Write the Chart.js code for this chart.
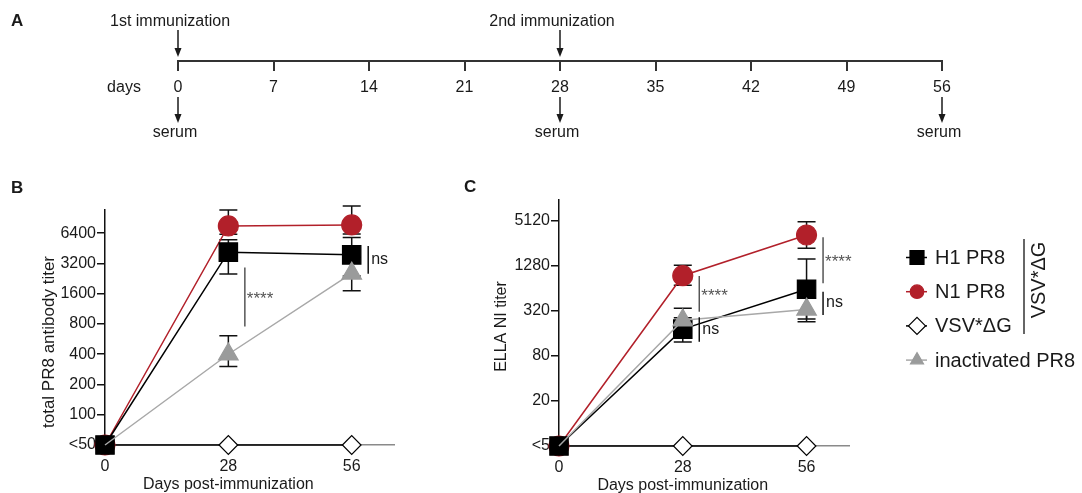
<!DOCTYPE html>
<html>
<head>
<meta charset="utf-8">
<title>PR8 immunization titers</title>
<script src="https://cdn.jsdelivr.net/npm/chart.js@4.4.1/dist/chart.umd.min.js"></script>
<style>
  html, body { margin: 0; padding: 0; background: #fff; }
  body { width: 1082px; height: 493px; position: relative; overflow: hidden; }
  canvas { position: absolute; }
  #timeline-chart { left: 0; top: 0; }
  #total-chart { left: 0; top: 170px; }
  #ella-chart { left: 420px; top: 170px; }
</style>
</head>
<body>
<canvas id="timeline-chart" width="1082" height="150"></canvas>
<canvas id="total-chart" width="420" height="323"></canvas>
<canvas id="ella-chart" width="662" height="323"></canvas>
<script>
"use strict";

// ---- data ----
const timelineDays = [0, 7, 14, 21, 28, 35, 42, 49, 56];
const immunizationDays = [0, 28];
const immunizationLabels = ["1st immunization", "2nd immunization"];
const serumDays = [0, 28, 56];

const days = [0, 28, 56];

// panel B: total PR8 antibody titer (day 0 is "<50", plotted at 50)
const totalTicks = [50, 100, 200, 400, 800, 1600, 3200, 6400];
const totalH1 = [50, 4150, 3900];
const totalH1Low = [null, 2520, 2400];
const totalH1High = [null, 5500, 5790];
const totalN1 = [50, 7575, 7745];
const totalN1Low = [null, 6260, 6300];
const totalN1High = [null, 10900, 11960];
const totalVsv = [50, 50, 50];
const totalInact = [50, 400, 2550];
const totalInactLow = [null, 302, 1709];
const totalInactHigh = [null, 610, 3700];
const totalSigDays = [28, 56];
const totalSigFrom = [755, 2523];
const totalSigTo = [2915, 4785];
const totalSigLabels = ["****", "ns"];

// panel C: ELLA NI titer (day 0 is "<5", plotted at 5)
const ellaTicks = [5, 20, 80, 320, 1280, 5120];
const ellaH1 = [5, 183, 626];
const ellaH1Low = [null, 123, 250];
const ellaH1High = [null, 260, 1588];
const ellaN1 = [5, 949, 3326];
const ellaN1Low = [null, 706, 2208];
const ellaN1High = [null, 1308, 5010];
const ellaVsv = [5, 5, 5];
const ellaInact = [5, 240, 336];
const ellaInactLow = [null, 170, 230];
const ellaInactHigh = [null, 348, 480];
const ellaSigDays = [28, 28, 56, 56];
const ellaSigFrom = [313, 124, 751, 283];
const ellaSigTo = [941, 264, 3100, 580];
const ellaSigLabels = ["****", "ns", "****", "ns"];

const legendLabels = ["H1 PR8", "N1 PR8", "VSV*\u0394G", "inactivated PR8"];

// ---- styles ----
const FONT = '"Liberation Sans", Arial, Helvetica, sans-serif';
const INK = "#1a1a1a";
const RED = "#b2202a";
const GREY = "#9a9b9b";

const styles = {
  "H1 PR8": { line: "#000", point: "rect", radius: 13, fill: "#000", stroke: "#000", order: 1, hideFirst: false },
  "N1 PR8": { line: RED, point: "circle", radius: 10, fill: RED, stroke: RED, order: 2, hideFirst: false },
  "VSV*\u0394G": { line: "#000", point: "rectRot", radius: 9.3, fill: "#fff", stroke: "#000", order: 3, hideFirst: false },
  "inactivated PR8": { line: "#a8a8a8", point: "triangle", radius: 11.3, fill: GREY, stroke: GREY, order: 0, hideFirst: true },
};

Chart.defaults.font.family = FONT;
Chart.defaults.color = INK;

function makeDataset(label, values, low, high) {
  const style = styles[label];
  const radius = (context) => (style.hideFirst && context.dataIndex === 0 ? 0 : style.radius);
  return {
    label,
    data: values.map((value, index) => ({ x: days[index], y: value })),
    errorLow: low,
    errorHigh: high,
    borderColor: style.line,
    borderWidth: 1.5,
    pointStyle: style.point,
    pointRadius: radius,
    pointHoverRadius: radius,
    pointBackgroundColor: style.fill,
    pointBorderColor: style.stroke,
    pointBorderWidth: 1.2,
    tension: 0,
    clip: false,
    order: style.order,
  };
}

function drawDownArrow(ctx, x, y1, y2) {
  ctx.beginPath();
  ctx.moveTo(x, y1);
  ctx.lineTo(x, y2 - 6);
  ctx.stroke();
  ctx.beginPath();
  ctx.moveTo(x, y2);
  ctx.lineTo(x - 3.5, y2 - 9);
  ctx.lineTo(x + 3.5, y2 - 9);
  ctx.closePath();
  ctx.fill();
}

function drawMarker(ctx, label, x, y, size) {
  const style = styles[label];
  ctx.save();
  ctx.fillStyle = style.fill;
  ctx.strokeStyle = style.stroke;
  ctx.lineWidth = 1.2;
  ctx.beginPath();
  if (style.point === "rect") {
    ctx.rect(x - size / 2, y - size / 2, size, size);
  } else if (style.point === "circle") {
    ctx.arc(x, y, size / 2, 0, Math.PI * 2);
  } else if (style.point === "rectRot") {
    ctx.moveTo(x - size / 2, y);
    ctx.lineTo(x, y - size / 2);
    ctx.lineTo(x + size / 2, y);
    ctx.lineTo(x, y + size / 2);
    ctx.closePath();
  } else {
    const r = size / 1.732;
    ctx.moveTo(x, y - r);
    ctx.lineTo(x + size / 2, y + r / 2);
    ctx.lineTo(x - size / 2, y + r / 2);
    ctx.closePath();
  }
  ctx.fill();
  ctx.stroke();
  ctx.restore();
}

// ---- panel A: timeline ----
const timelinePlugin = {
  id: "timelineNotes",
  afterDraw(chart) {
    const { ctx } = chart;
    const xScale = chart.scales.x;
    const axisY = xScale.top;
    ctx.save();
    ctx.fillStyle = INK;
    ctx.strokeStyle = INK;
    ctx.lineWidth = 1.5;
    ctx.font = "16px " + FONT;
    ctx.textAlign = "center";
    ctx.textBaseline = "middle";
    immunizationDays.forEach((day, i) => {
      const px = xScale.getPixelForValue(day);
      drawDownArrow(ctx, px, axisY - 31, axisY - 4);
      ctx.fillText(immunizationLabels[i], px - 8, axisY - 39);
    });
    serumDays.forEach((day) => {
      const px = xScale.getPixelForValue(day);
      drawDownArrow(ctx, px, axisY + 36, axisY + 62);
      ctx.fillText("serum", px - 3, axisY + 72);
    });
    ctx.fillText("days", xScale.left - 54, axisY + 27);
    ctx.font = "bold 17px " + FONT;
    ctx.textAlign = "left";
    ctx.fillText("A", 11, 21);
    ctx.restore();
  },
};

new Chart(document.getElementById("timeline-chart"), {
  type: "line",
  data: { datasets: [] },
  options: {
    responsive: false,
    animation: false,
    events: [],
    layout: { padding: { left: 178, right: 140, top: 0, bottom: 0 } },
    plugins: { legend: { display: false }, tooltip: { enabled: false } },
    scales: {
      x: {
        type: "linear",
        min: 0,
        max: 56,
        afterBuildTicks: (scale) => { scale.ticks = timelineDays.map((value) => ({ value })); },
        afterFit: (scale) => { scale.height = 89; },
        border: { display: true, color: "#333", width: 2 },
        grid: { drawOnChartArea: false, tickLength: 10, color: "#333", lineWidth: 2 },
        ticks: { padding: 7, font: { size: 16 }, color: INK, maxRotation: 0 },
      },
      y: { display: false, min: 0, max: 1 },
    },
  },
  plugins: [timelinePlugin],
});

// ---- panels B and C ----
const errorBarPlugin = {
  id: "errorBars",
  beforeDatasetsDraw(chart) {
    const { ctx, scales: { x, y } } = chart;
    ctx.save();
    ctx.strokeStyle = "#111";
    ctx.lineWidth = 1.5;
    for (const dataset of chart.data.datasets) {
      if (!dataset.errorLow) {
        continue;
      }
      dataset.data.forEach((point, i) => {
        const low = dataset.errorLow[i];
        const high = dataset.errorHigh[i];
        if (low === null || high === null) {
          return;
        }
        const px = x.getPixelForValue(point.x);
        const yLow = y.getPixelForValue(low);
        const yHigh = y.getPixelForValue(high);
        ctx.beginPath();
        ctx.moveTo(px, yLow);
        ctx.lineTo(px, yHigh);
        ctx.moveTo(px - 9, yLow);
        ctx.lineTo(px + 9, yLow);
        ctx.moveTo(px - 9, yHigh);
        ctx.lineTo(px + 9, yHigh);
        ctx.stroke();
      });
    }
    ctx.restore();
  },
};

const notesPlugin = {
  id: "panelNotes",
  afterDraw(chart) {
    const notes = chart.options.plugins.panelNotes;
    const { ctx, scales: { x, y } } = chart;
    ctx.save();

    // significance brackets
    notes.sigDays.forEach((day, i) => {
      const px = x.getPixelForValue(day) + 16.5;
      const yFrom = y.getPixelForValue(notes.sigFrom[i]);
      const yTo = y.getPixelForValue(notes.sigTo[i]);
      const stars = notes.sigLabels[i] !== "ns";
      ctx.strokeStyle = stars ? "#555" : "#111";
      ctx.lineWidth = 1.5;
      ctx.beginPath();
      ctx.moveTo(px, yFrom);
      ctx.lineTo(px, yTo);
      ctx.stroke();
      const mid = (yFrom + yTo) / 2;
      ctx.textAlign = "left";
      ctx.textBaseline = "alphabetic";
      if (stars) {
        ctx.fillStyle = "#555";
        ctx.font = "17px " + FONT;
        ctx.fillText(notes.sigLabels[i], px + 2, mid + 7);
      } else {
        ctx.fillStyle = INK;
        ctx.font = "16px " + FONT;
        ctx.fillText(notes.sigLabels[i], px + 3, mid + 4);
      }
    });

    // axis titles
    ctx.fillStyle = INK;
    ctx.font = "16px " + FONT;
    ctx.textAlign = "center";
    ctx.textBaseline = "middle";
    ctx.fillText("Days post-immunization", x.getPixelForValue(28), chart.chartArea.bottom + 40);
    ctx.save();
    ctx.translate(notes.yTitleX, notes.yTitleY);
    ctx.rotate(-Math.PI / 2);
    ctx.font = notes.yTitleSize + "px " + FONT;
    ctx.fillText(notes.yTitle, 0, 0);
    ctx.restore();

    // panel letter
    ctx.font = "bold 17px " + FONT;
    ctx.textAlign = "left";
    ctx.fillText(notes.letter, notes.letterX, notes.letterY);

    // legend
    if (notes.legend) {
      const markerX = chart.chartArea.right + 68;
      const sizes = [14, 13.5, 17, 13];
      legendLabels.forEach((label, i) => {
        const rowY = 87.5 + i * 34.2;
        ctx.strokeStyle = styles[label].line;
        ctx.lineWidth = 1.5;
        ctx.beginPath();
        ctx.moveTo(markerX - 11, rowY);
        ctx.lineTo(markerX + 10, rowY);
        ctx.stroke();
        drawMarker(ctx, label, markerX, rowY, sizes[i]);
        ctx.fillStyle = INK;
        ctx.font = "20px " + FONT;
        ctx.textAlign = "left";
        ctx.textBaseline = "middle";
        ctx.fillText(label, markerX + 18, rowY + 1);
      });
      ctx.strokeStyle = "#333";
      ctx.lineWidth = 1.5;
      ctx.beginPath();
      ctx.moveTo(markerX + 107, 69);
      ctx.lineTo(markerX + 107, 164);
      ctx.stroke();
      ctx.save();
      ctx.translate(markerX + 122, 110);
      ctx.rotate(-Math.PI / 2);
      ctx.textAlign = "center";
      ctx.fillText(legendLabels[2], 0, 0);
      ctx.restore();
    }
    ctx.restore();
  },
};

function titerChart(canvasId, cfg) {
  return new Chart(document.getElementById(canvasId), {
    type: "line",
    data: { datasets: cfg.datasets },
    options: {
      responsive: false,
      animation: false,
      events: [],
      layout: { padding: cfg.padding },
      plugins: {
        legend: { display: false },
        tooltip: { enabled: false },
        panelNotes: cfg.notes,
      },
      scales: {
        x: {
          type: "linear",
          min: 0,
          max: 65.6,
          afterBuildTicks: (scale) => { scale.ticks = days.map((value) => ({ value })); },
          afterFit: (scale) => { scale.height = cfg.xHeight; },
          border: { display: true, color: "#8a8a8a", width: 1.5 },
          grid: { display: false, drawTicks: false },
          ticks: { padding: 12, font: { size: 16 }, color: INK, maxRotation: 0 },
        },
        y: {
          type: "logarithmic",
          min: cfg.yMin,
          max: cfg.yMax,
          bounds: "data",
          afterBuildTicks: (scale) => { scale.ticks = cfg.ticks.map((value) => ({ value })); },
          afterFit: (scale) => { scale.width = cfg.yWidth; },
          border: { display: true, color: "#111", width: 1.5 },
          grid: { drawOnChartArea: false, tickLength: 8, color: "#111", lineWidth: 1.5 },
          ticks: {
            padding: 1,
            font: { size: 16 },
            color: INK,
            callback: (value) => (value === cfg.yMin ? "<" + value : String(value)),
          },
        },
      },
    },
    plugins: [errorBarPlugin, notesPlugin],
  });
}

titerChart("total-chart", {
  datasets: [
    makeDataset("H1 PR8", totalH1, totalH1Low, totalH1High),
    makeDataset("N1 PR8", totalN1, totalN1Low, totalN1High),
    makeDataset("VSV*\u0394G", totalVsv, null, null),
    makeDataset("inactivated PR8", totalInact, totalInactLow, totalInactHigh),
  ],
  ticks: totalTicks,
  yMin: 50,
  yMax: 10900,
  yWidth: 105,
  xHeight: 48,
  padding: { left: 0, right: 26, top: 40, bottom: 0 },
  notes: {
    sigDays: totalSigDays,
    sigFrom: totalSigFrom,
    sigTo: totalSigTo,
    sigLabels: totalSigLabels,
    yTitle: "total PR8 antibody titer",
    yTitleX: 49,
    yTitleY: 172,
    yTitleSize: 17,
    letter: "B",
    letterX: 11,
    letterY: 18,
    legend: false,
  },
});

titerChart("ella-chart", {
  datasets: [
    makeDataset("H1 PR8", ellaH1, ellaH1Low, ellaH1High),
    makeDataset("N1 PR8", ellaN1, ellaN1Low, ellaN1High),
    makeDataset("VSV*\u0394G", ellaVsv, null, null),
    makeDataset("inactivated PR8", ellaInact, ellaInactLow, ellaInactHigh),
  ],
  ticks: ellaTicks,
  yMin: 5,
  yMax: 9780,
  yWidth: 139,
  xHeight: 47,
  padding: { left: 0, right: 233, top: 30, bottom: 0 },
  notes: {
    sigDays: ellaSigDays,
    sigFrom: ellaSigFrom,
    sigTo: ellaSigTo,
    sigLabels: ellaSigLabels,
    yTitle: "ELLA NI titer",
    yTitleX: 82,
    yTitleY: 156.5,
    yTitleSize: 16,
    letter: "C",
    letterX: 44,
    letterY: 17,
    legend: true,
  },
});
</script>
</body>
</html>
